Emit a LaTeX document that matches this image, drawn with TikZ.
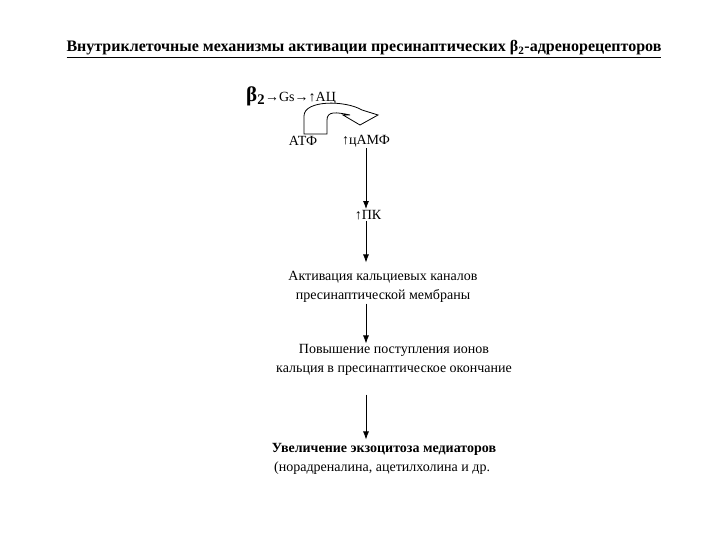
\documentclass[tikz,border=0pt]{standalone}
\usepackage{fontspec}
\setmainfont{Liberation Serif}
\usetikzlibrary{arrows.meta,calc}
\tikzset{
	txt/.style={inner sep=1pt, align=center, font=\fontsize{14}{18.5}\selectfont},
	arr/.style={-{Latex[length=8pt,width=6pt]}, line width=0.8pt}
}
\begin{document}
\begin{tikzpicture}[x=1pt,y=-1pt]
	\useasboundingbox[fill=white] (0,0) rectangle (720,540);
	\node[txt, font=\fontsize{16}{18}\bfseries\selectfont] (title) at (364,49) {\underline{Внутриклеточные механизмы активации пресинаптических β\textsubscript{2}-адренорецепторов}};
	\node[txt, anchor=west] (beta) at (245,96) {{\fontsize{21}{21}\bfseries\selectfont β\textsubscript{2}}→Gs→↑АЦ};
	\node[txt] (atp) at (303,141) {АТФ};
	\node[txt] (camp) at (366,141) {↑цАМФ};
	\node[txt] (pk) at (368,215) {↑ПК};
	\node[txt] (chan) at (383,287) {Активация кальциевых каналов\\пресинаптической мембраны};
	\node[txt] (ions) at (394,360) {Повышение поступления ионов\\кальция в пресинаптическое окончание};
	\node[txt, align=left] (exo) at (384,459) {\textbf{Увеличение экзоцитоза медиаторов}\\\,(норадреналина, ацетилхолина и др.};
	\coordinate (axis) at (366,0);
	% bent arrow from ATP to cAMP
	\filldraw[fill=white, line width=0.8pt] (304,134) -- (304,116) .. controls (304,100) and (345,100) .. (362,110)
		-- (378,115) -- (360,125) -- (343,115) -- (350,115) .. controls (336,112) and (327,111) .. (327,120) -- (327,134) -- cycle;
	\draw[arr] (camp.south) -- (axis |- pk.north);
	\draw[arr] (axis |- pk.south) -- ($(axis |- chan.north)+(0,-8)$);
	\draw[arr] (axis |- chan.south) -- (axis |- ions.north);
	\draw[arr] ($(axis |- ions.south)+(0,18)$) -- ($(axis |- exo.north)+(0,-3)$);
\end{tikzpicture}
\end{document}
